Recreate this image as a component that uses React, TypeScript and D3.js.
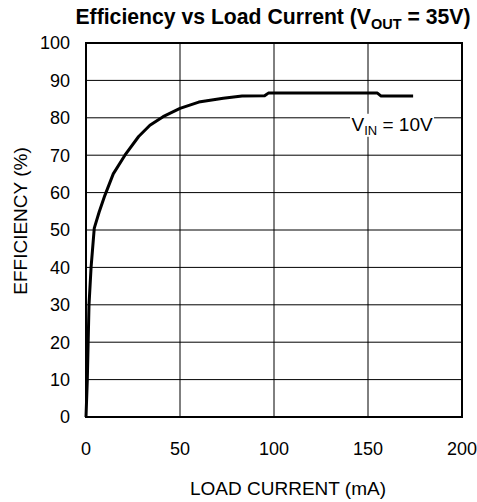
import { useEffect, useRef } from "react";
import * as d3 from "d3";

// load current (mA) vs efficiency (%), Vin = 10V
const current = [0, 0.7, 1.6, 2.7, 4.4, 7, 10, 14.5, 20.7, 28, 34, 41, 50, 60, 73, 83, 95, 97, 155, 157, 174];
const efficiency = [0, 10, 30, 40, 50.5, 54.8, 59.2, 65, 70, 75, 78, 80.3, 82.5, 84.2, 85.2, 85.8, 85.9, 86.6, 86.6, 85.8, 85.8];

const xTicks = [0, 50, 100, 150, 200];
const yTicks = [0, 10, 20, 30, 40, 50, 60, 70, 80, 90, 100];

const W = 477;
const H = 502;
const M = { left: 86, right: 15, top: 43, bottom: 85 };

export default function App() {
  const svgRef = useRef<SVGSVGElement>(null);

  useEffect(() => {
    const svg = d3.select(svgRef.current);
    svg.selectAll("*").remove();

    const x = d3.scaleLinear().domain([0, 200]).range([M.left, W - M.right]);
    const y = d3.scaleLinear().domain([0, 100]).range([H - M.bottom, M.top]);

    const font = "'Liberation Sans', Arial, sans-serif";

    // grid
    svg.append("g")
      .selectAll("line.h")
      .data(yTicks)
      .enter()
      .append("line")
      .attr("x1", x(0)).attr("x2", x(200))
      .attr("y1", d => y(d)).attr("y2", d => y(d))
      .attr("stroke", "#000").attr("stroke-width", 1);

    svg.append("g")
      .selectAll("line.v")
      .data(xTicks)
      .enter()
      .append("line")
      .attr("y1", y(0)).attr("y2", y(100))
      .attr("x1", d => x(d)).attr("x2", d => x(d))
      .attr("stroke", "#000").attr("stroke-width", 1);

    svg.append("rect")
      .attr("x", x(0)).attr("y", y(100))
      .attr("width", x(200) - x(0)).attr("height", y(0) - y(100))
      .attr("fill", "none").attr("stroke", "#000").attr("stroke-width", 2);

    // tick labels
    svg.append("g")
      .selectAll("text")
      .data(yTicks)
      .enter()
      .append("text")
      .attr("x", x(0) - 16)
      .attr("y", d => y(d))
      .attr("dy", "0.35em")
      .attr("text-anchor", "end")
      .style("font", `18px ${font}`)
      .text(d => d);

    svg.append("g")
      .selectAll("text")
      .data(xTicks)
      .enter()
      .append("text")
      .attr("x", d => x(d))
      .attr("y", y(0) + 32)
      .attr("dy", "0.35em")
      .attr("text-anchor", "middle")
      .style("font", `18px ${font}`)
      .text(d => d);

    // curve
    const pts: [number, number][] = current.map((c, i) => [c, efficiency[i]]);
    const line = d3.line<[number, number]>()
      .x(d => x(d[0]))
      .y(d => y(d[1]));

    svg.append("path")
      .datum(pts)
      .attr("d", line)
      .attr("fill", "none")
      .attr("stroke", "#000")
      .attr("stroke-width", 3)
      .attr("stroke-linejoin", "round");

    // series label
    const lbl = svg.append("g").attr("transform", `translate(${x(162.8)},${y(78)})`);
    lbl.append("rect")
      .attr("x", -42).attr("y", -11.5)
      .attr("width", 84).attr("height", 23)
      .attr("fill", "#fff");
    const lt = lbl.append("text")
      .attr("text-anchor", "middle")
      .attr("dy", "0.3em")
      .style("font", `19px ${font}`);
    lt.append("tspan").text("V");
    lt.append("tspan").attr("dy", 4).style("font-size", "13px").text("IN");
    lt.append("tspan").attr("dy", -4).text(" = 10V");

    // title
    const t = svg.append("text")
      .attr("x", 273)
      .attr("y", 24)
      .attr("text-anchor", "middle")
      .style("font", `bold 21.2px ${font}`);
    t.append("tspan").text("Efficiency vs Load Current (V");
    t.append("tspan").attr("dy", 5).style("font-size", "14.5px").text("OUT");
    t.append("tspan").attr("dy", -5).text(" = 35V)");

    // axis titles
    svg.append("text")
      .attr("x", 288)
      .attr("y", 488)
      .attr("dy", "0.35em")
      .attr("text-anchor", "middle")
      .style("font", `19px ${font}`)
      .text("LOAD CURRENT (mA)");

    svg.append("text")
      .attr("transform", `translate(20.5,221) rotate(-90)`)
      .attr("dy", "0.35em")
      .attr("text-anchor", "middle")
      .style("font", `19px ${font}`)
      .text("EFFICIENCY (%)");
  }, []);

  return (
    <svg
      ref={svgRef}
      width={W}
      height={H}
      style={{ position: "absolute", left: 0, top: 0, background: "#fff" }}
    />
  );
}
